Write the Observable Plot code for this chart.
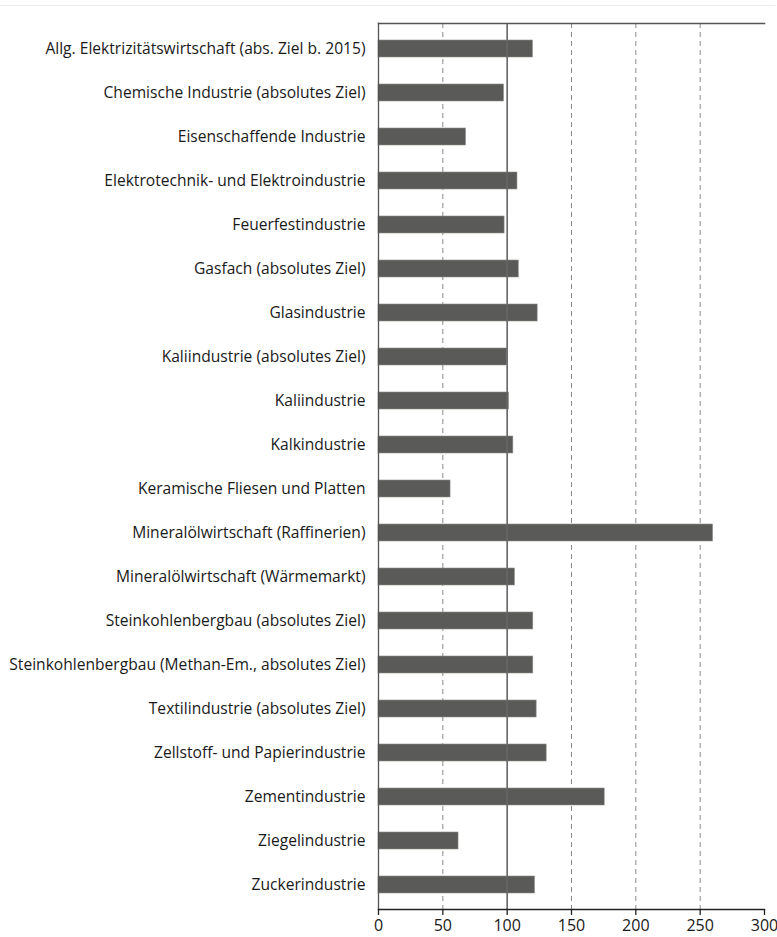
<!DOCTYPE html>
<html>
<head>
<meta charset="utf-8">
<script src="https://cdn.jsdelivr.net/npm/d3@7"></script>
<script src="https://cdn.jsdelivr.net/npm/@observablehq/plot@0.6"></script>
<style>
  html, body { margin: 0; padding: 0; background: #fff; }
  #wrap { position: relative; width: 777px; height: 937px; }
  #topline { position: absolute; left: 0; top: 5px; width: 775px; height: 0; border-top: 1px solid #ececec; }
  #chart { position: absolute; left: 0; top: 0; }
</style>
</head>
<body>
<div id="wrap"><div id="topline"></div><div id="chart"></div></div>
<script>
const categories = [
  "Allg. Elektrizitätswirtschaft (abs. Ziel b. 2015)",
  "Chemische Industrie (absolutes Ziel)",
  "Eisenschaffende Industrie",
  "Elektrotechnik- und Elektroindustrie",
  "Feuerfestindustrie",
  "Gasfach (absolutes Ziel)",
  "Glasindustrie",
  "Kaliindustrie (absolutes Ziel)",
  "Kaliindustrie",
  "Kalkindustrie",
  "Keramische Fliesen und Platten",
  "Mineralölwirtschaft (Raffinerien)",
  "Mineralölwirtschaft (Wärmemarkt)",
  "Steinkohlenbergbau (absolutes Ziel)",
  "Steinkohlenbergbau (Methan-Em., absolutes Ziel)",
  "Textilindustrie (absolutes Ziel)",
  "Zellstoff- und Papierindustrie",
  "Zementindustrie",
  "Ziegelindustrie",
  "Zuckerindustrie"
];
const values = [120, 97.5, 68, 108, 98, 109, 123.7, 100, 101.4, 104.8, 56, 260, 106, 120.3, 120.3, 122.9, 130.7, 175.8, 62.2, 121.6];
const xTicks = [0, 50, 100, 150, 200, 250, 300];
const dashedRefs = [50, 150, 200, 250];
const solidRefs = [100];

const data = categories.map((c, i) => ({ name: c, value: values[i] }));

const chart = Plot.plot({
  width: 777,
  height: 937,
  marginLeft: 378,
  marginRight: 13,
  marginTop: 23,
  marginBottom: 28,
  style: { fontFamily: "'Open Sans', sans-serif", color: "#1a1a1a", background: "transparent" },
  x: { domain: [0, 300], ticks: xTicks, label: null },
  y: { domain: categories, paddingInner: 0.615, paddingOuter: 0.3075, label: null },
  marks: [
    Plot.ruleX(dashedRefs, { stroke: "#8a8a8a", strokeWidth: 1, strokeDasharray: "5,4" }),
    Plot.barX(data, { x: "value", y: "name", fill: "#5a5a58", stroke: "#8c8c8a", strokeWidth: 0.6 }),
    Plot.ruleX(solidRefs, { stroke: "#666", strokeWidth: 1.6 }),
    Plot.frame({ anchor: "top", stroke: "#555", strokeWidth: 1.5 }),
    Plot.frame({ anchor: "left", stroke: "#555", strokeWidth: 1.3 }),
    Plot.frame({ anchor: "bottom", stroke: "#222", strokeWidth: 1.3 }),
    Plot.axisX({ anchor: "bottom", ticks: xTicks, tickSize: 6, tickPadding: 4, fontSize: 16, fontWeight: 500, stroke: "#222", strokeWidth: 1.3, label: null }),
    Plot.axisY({ anchor: "left", tickSize: 0, tickPadding: 13, fontSize: 15.6, fontWeight: 500, label: null })
  ]
});
document.getElementById("chart").appendChild(chart);
</script>
</body>
</html>
